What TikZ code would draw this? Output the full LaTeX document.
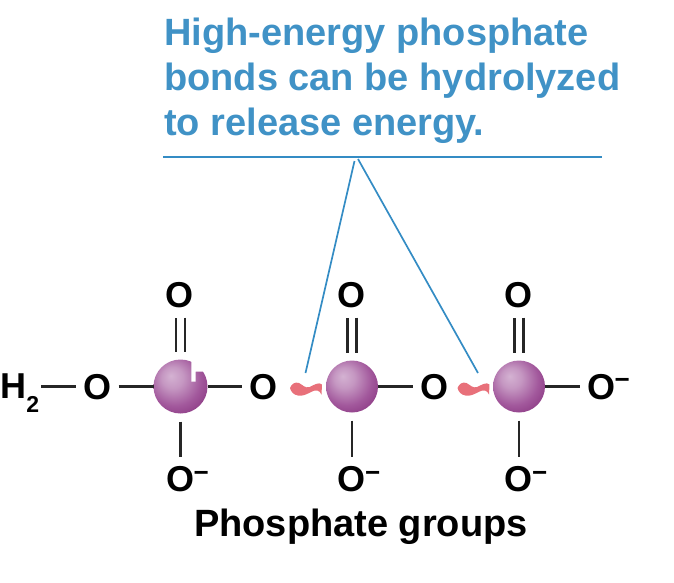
\documentclass[tikz,border=0pt]{standalone}
\usepackage{fontspec}
\setmainfont{Liberation Sans}
\definecolor{blueink}{RGB}{64,146,198}
\definecolor{blueline}{RGB}{52,140,196}
\definecolor{wavepink}{RGB}{232,112,122}
\definecolor{sa}{RGB}{212,178,210}
\definecolor{sb}{RGB}{162,88,156}
\definecolor{sc}{RGB}{115,25,105}
\pgfdeclareradialshading{sphereshade}{\pgfpoint{-9bp}{10bp}}{color(0bp)=(sa);color(10bp)=(sa!70!sb);color(24bp)=(sb);color(46bp)=(sc);color(60bp)=(sc!80!sb)}
\newcommand{\atomfont}{\fontsize{36}{36}\bfseries\selectfont}
\tikzset{
  atom/.style={inner sep=0pt,outer sep=0pt,font=\atomfont,minimum width=43pt,minimum height=45pt,text height=25.5pt,text depth=0pt},
  ballp/.style={circle,inner sep=0pt,outer sep=0pt,minimum size=54pt,shading=sphereshade},
  bond/.style={draw=black!85,line width=2.4pt},
  dbond/.style={bond,double,double distance=6.6pt},
  lead/.style={draw=blueline,line width=1.7pt},
  wavy/.style={fill=wavepink},
  headline/.style={inner sep=0pt,anchor=base west,text=blueink,font=\fontsize{38}{45}\bfseries\selectfont},
}
\newcommand{\minussup}{\rlap{\raisebox{10.5pt}{\fontsize{26}{26}\bfseries\selectfont\kern-0.5pt −}}}
\newcommand{\wavetilde}[1]{\fill[wavy,shift={(#1,0)}] (290,388) .. controls (291.5,384) and (295,381.5) .. (299,383) .. controls (303,385) and (305,388.5) .. (309.5,387) .. controls (314,385) and (319,381.5) .. (322,384.5) -- (321.5,394.5) .. controls (319.5,390) and (316,389.5) .. (312,391.5) .. controls (307,394) and (303,396.5) .. (298,395.5) .. controls (294,395) and (291,392) .. (290,388) -- cycle;}
\begin{document}
\begin{tikzpicture}[x=1pt,y=-1pt]
\useasboundingbox (0,0) rectangle (674,582);
\node[headline] (t1) at (164,45) {High-energy phosphate};
\node[headline] (t2) at (164,90) {bonds can be hydrolyzed};
\node[headline] (t3) at (164,135) {to release energy.};
\coordinate (ruleL) at (163,157);
\coordinate (ruleR) at (602,157);
\draw[lead] (ruleL) -- (ruleR);
\coordinate (apexa) at (354.5,161);
\coordinate (apexb) at (358,159);
\coordinate (enda) at (305.5,373);
\coordinate (endb) at (478,373);
\draw[lead] (apexa) -- (enda);
\draw[lead] (apexb) -- (endb);
% balls
\node[ballp] (p1) at (180.5,386.5) {};
\node[ballp,minimum size=52pt] (p2) at (352,386.5) {};
\node[ballp,minimum size=52pt] (p3) at (519,386.5) {};
\fill[white] (191.3,381.7) -- (195.7,381.7) -- (195.7,371.5) -- (208,371.5) -- (208,358) -- (191.3,358) -- cycle;
% atoms
\node[inner sep=0pt,outer sep=0pt,anchor=base west,font=\atomfont] (h) at (0,398.5) {H\raisebox{-14pt}{\fontsize{23}{23}\selectfont\kern0.5pt 2}};
\coordinate (hr) at (41,386.5);
\node[atom] (o1) at (97,386.5) {O};
\node[atom] (o2) at (263,386.5) {O};
\node[atom] (o3) at (434.5,386.5) {O};
\node[atom] (o4) at (601,386.5) {O\minussup};
\node[atom] (t1o) at (179.5,295) {O};
\node[atom] (t2o) at (351.5,295) {O};
\node[atom] (t3o) at (518.5,295) {O};
\node[atom] (b1o) at (180,479) {O\minussup};
\node[atom] (b2o) at (351.5,479) {O\minussup};
\node[atom] (b3o) at (518.5,479) {O\minussup};
% bonds
\draw[bond] (hr) -- (o1);
\draw[bond] (o1) -- (p1);
\draw[bond] (p1) -- (o2);
\draw[bond] (p2) -- (o3);
\draw[bond] (p3) -- (o4);
\foreach \a/\b in {t1o/p1,t2o/p2,t3o/p3}{\draw[dbond] (\a.south -| \b) -- ([yshift=8pt]\b.north);}
\foreach \a/\b in {p1/b1o,p2/b2o,p3/b3o}{\draw[bond] ([yshift=-8pt]\a.south) -- (\b.north -| \a);}
\wavetilde{0}
\wavetilde{167.5}
\node[inner sep=0pt,font=\fontsize{38}{38}\bfseries\selectfont,text=black] (cap) at (361,527) {Phosphate groups};
\end{tikzpicture}
\end{document}
